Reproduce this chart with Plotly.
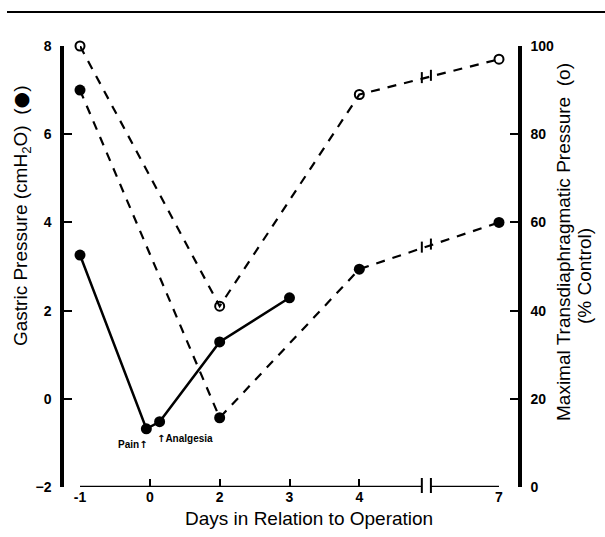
import numpy as np
import plotly.graph_objects as go

W, H = 605, 537

# ---- data -------------------------------------------------------------
# broken x axis: day labels and the slot each occupies on the axis
day_ticks = [-1, 0, 2, 3, 4, 7]
day_slots = [0, 1, 2, 3, 4, 6]
tick_text = ["-1", "0", "2", "3", "4", "7"]

# gastric pressure (cmH2O), solid line, filled circles (Pain / Analgesia at day 0)
solid_days = [-1, -0.05, 0.28, 2, 3]
solid_gastric = [3.26, -0.68, -0.52, 1.29, 2.29]

# gastric pressure (cmH2O), dashed line, filled circles
dash_days = [-1, 2, 4, 7]
dash_gastric = [7.0, -0.43, 2.94, 4.0]

# maximal transdiaphragmatic pressure (% control), dashed line, open circles
open_days = [-1, 2, 4, 7]
open_pdi = [100, 41, 89, 97]

break_day_slot = 4.96  # where the axis break sits (between 4 and 7)


def slot(days):
    return np.interp(days, day_ticks, day_slots)


FONT = "Liberation Sans, Arial, Helvetica, sans-serif"
ARROW = "<span style='font-family:DejaVu Sans'>↑</span>"

fig = go.Figure()

fig.add_trace(go.Scatter(
    x=slot(dash_days), y=dash_gastric, mode="lines+markers",
    line=dict(color="black", width=2.2, dash="9px,8px"),
    marker=dict(symbol="circle", size=11, color="black"),
    cliponaxis=False, showlegend=False, yaxis="y"))

fig.add_trace(go.Scatter(
    x=slot(solid_days), y=solid_gastric, mode="lines+markers",
    line=dict(color="black", width=2.5),
    marker=dict(symbol="circle", size=11, color="black"),
    cliponaxis=False, showlegend=False, yaxis="y"))

fig.add_trace(go.Scatter(
    x=slot(open_days), y=open_pdi, mode="lines+markers",
    line=dict(color="black", width=2.2, dash="9px,8px"),
    marker=dict(symbol="circle-open", size=9, color="black", line=dict(width=2)),
    cliponaxis=False, showlegend=False, yaxis="y2"))

# ---- geometry (pixels -> paper) ---------------------------------------
x0_px, x1_px = 80, 499
y_top_px, y_bot_px = 46, 487
left_axis_px, right_axis_px = 62, 520


def px(xp):
    return xp / W


def py(yp):
    return 1 - yp / H


shapes = []
# broken x-axis line
gap = 0.065
ymin = -2
for a, b in [(0, break_day_slot - gap), (break_day_slot + gap, 6)]:
    shapes.append(dict(type="line", xref="x", yref="y", x0=a, x1=b, y0=ymin, y1=ymin,
                       line=dict(color="black", width=2.5)))
for s in (break_day_slot - gap, break_day_slot + gap):
    shapes.append(dict(type="line", xref="x", yref="paper", x0=s, x1=s,
                       y0=py(y_bot_px + 6), y1=py(y_bot_px - 9),
                       line=dict(color="black", width=2)))

# break marks on the dashed series
brk_pos = [break_day_slot - gap, break_day_slot + gap]
for xs, ys, yref, half in [(slot(dash_days), dash_gastric, "y", 0.1),
                           (slot(open_days), open_pdi, "y2", 1.0)]:
    for s in brk_pos:
        yv = float(np.interp(s, xs, ys))
        shapes.append(dict(type="line", xref="x", yref=yref, x0=s, x1=s,
                           y0=yv - half, y1=yv + half * 1.5,
                           line=dict(color="black", width=2)))

# page rule at the top
shapes.append(dict(type="line", xref="paper", yref="paper", x0=px(7), x1=1,
                   y0=py(12), y1=py(12), line=dict(color="black", width=2.2)))

annotations = [
    dict(text="Gastric Pressure (cmH<sub>2</sub>O)  (<span style='font-family:DejaVu Sans'>●</span>)",
         textangle=-90,
         xref="paper", yref="paper", x=px(21), y=py(216), xanchor="center", yanchor="middle",
         showarrow=False, font=dict(family=FONT, size=19, color="black")),
    dict(text="Maximal Transdiaphragmatic Pressure  (o)", textangle=-90,
         xref="paper", yref="paper", x=px(563), y=py(242), xanchor="center", yanchor="middle",
         showarrow=False, font=dict(family=FONT, size=19, color="black")),
    dict(text="(% Control)", textangle=-90,
         xref="paper", yref="paper", x=px(584), y=py(276), xanchor="center", yanchor="middle",
         showarrow=False, font=dict(family=FONT, size=19, color="black")),
    dict(text="Days in Relation to Operation",
         xref="paper", yref="paper", x=px(309), y=py(518), xanchor="center", yanchor="middle",
         showarrow=False, font=dict(family=FONT, size=19, color="black")),
    dict(text="<b>Pain" + ARROW + "</b>", xref="x", yref="y", x=slot(solid_days[1]), y=solid_gastric[1],
         xanchor="right", yanchor="middle", xshift=4, yshift=-16, showarrow=False,
         font=dict(family=FONT, size=10, color="black")),
    dict(text="<b>" + ARROW + "Analgesia</b>", xref="x", yref="y", x=slot(solid_days[2]), y=solid_gastric[2],
         xanchor="left", yanchor="middle", xshift=-5, yshift=-17, showarrow=False,
         font=dict(family=FONT, size=10, color="black")),
]

tickfont = dict(family=FONT, size=14, color="black", weight="bold")

fig.update_layout(
    width=W, height=H,
    margin=dict(l=0, r=0, t=0, b=0),
    paper_bgcolor="white", plot_bgcolor="white",
    xaxis=dict(domain=[px(x0_px), px(x1_px)], range=[0, 6], anchor="y",
               tickmode="array", tickvals=day_slots, ticktext=tick_text,
               ticks="inside", ticklen=8, tickwidth=2, tickcolor="black",
               showline=False, showgrid=False, zeroline=False,
               tickfont=tickfont, automargin=False),
    yaxis=dict(domain=[py(y_bot_px), py(y_top_px)], range=[-2, 8], anchor="free",
               position=px(left_axis_px), tickvals=[-2, 0, 2, 4, 6, 8],
               ticks="inside", ticklen=8, tickwidth=2, tickcolor="black",
               showline=True, linewidth=3.5, linecolor="black",
               showgrid=False, zeroline=False, tickfont=tickfont,
               ticklabelstandoff=6, automargin=False),
    yaxis2=dict(domain=[py(y_bot_px), py(y_top_px)], range=[0, 100], anchor="free",
                overlaying="y", side="right", position=px(right_axis_px),
                tickvals=[0, 20, 40, 60, 80, 100],
                ticks="inside", ticklen=8, tickwidth=2, tickcolor="black",
                showline=True, linewidth=3.5, linecolor="black",
                showgrid=False, zeroline=False, tickfont=tickfont,
                ticklabelstandoff=6, automargin=False),
    shapes=shapes,
    annotations=annotations,
)

fig.write_html("out.html")
